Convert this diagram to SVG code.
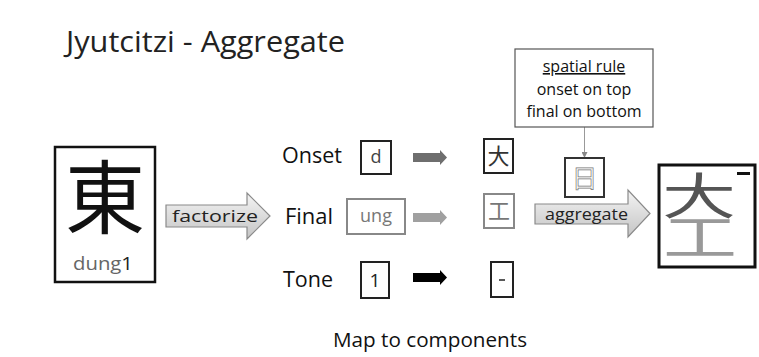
<svg xmlns="http://www.w3.org/2000/svg" width="759" height="357" viewBox="0 0 759 357">
<defs>
<linearGradient id="g" x1="0" y1="0" x2="0" y2="1">
<stop offset="0" stop-color="#f4f4f4"/>
<stop offset="1" stop-color="#c4c4c4"/>
</linearGradient>
<marker id="ah" viewBox="0 0 6 6" refX="5" refY="3" markerWidth="6" markerHeight="6" orient="auto" markerUnits="userSpaceOnUse">
<path d="M0,0 L6,3 L0,6 z" fill="#888"/>
</marker>
</defs>
<style>
text{font-family:"Open Sans",Lato,"Noto Sans CJK JP",sans-serif;}
.cjk{font-family:"Noto Sans CJK JP","Noto Sans CJK SC",sans-serif;}
.lbl{font-size:21px;fill:#111;}
.box{fill:#fff;stroke:#222;stroke-width:2;}
.gbox{fill:#fff;stroke:#888;stroke-width:2;}
.big{fill:url(#g);stroke:#8a8a8a;stroke-width:1.2;}
.at{font-size:17px;fill:#222;}
.rule{font-size:16px;fill:#111;text-anchor:middle;}
</style>
<rect width="759" height="357" fill="#fff"/>
<text x="66" y="52" font-size="29" fill="#222" textLength="279" lengthAdjust="spacingAndGlyphs">Jyutcitzi - Aggregate</text>

<g id="source">
<rect x="55" y="147" width="100" height="135" fill="#fff" stroke="#111" stroke-width="2.5"/>
<text class="cjk" x="105" y="227" font-size="80" text-anchor="middle" fill="#111">東</text>
<text x="73" y="270" font-size="19" fill="#666" textLength="60" lengthAdjust="spacingAndGlyphs">dung<tspan fill="#222">1</tspan></text>
</g>

<g id="connectors">
<g id="factorize">
<polygon class="big" points="166,205 247,205 247,193 270,216 247,239 247,227 166,227"/>
<text class="at" x="172" y="222" textLength="86" lengthAdjust="spacingAndGlyphs">factorize</text>
</g>
<polygon points="413,153 440,153 440,150 447,157.5 440,165 440,162 413,162" fill="#6e6e6e"/>
<polygon points="413,213 440,213 440,210 447,217.5 440,225 440,222 413,222" fill="#a0a0a0"/>
<polygon points="413,273 440,273 440,270 447,277.5 440,285 440,282 413,282" fill="#000"/>
<line x1="584.5" y1="127" x2="584.5" y2="157" stroke="#999" stroke-width="1" marker-end="url(#ah)"/>
<g id="aggregate">
<polygon class="big" points="535,204 628,204 628,190 650,213.5 628,237 628,224 535,224"/>
<text class="at" x="545" y="220" textLength="83" lengthAdjust="spacingAndGlyphs">aggregate</text>
</g>
</g>

<g id="onset">
<text class="lbl" x="282" y="163" textLength="60" lengthAdjust="spacingAndGlyphs">Onset</text>
<rect class="box" x="361" y="141" width="30" height="33"/>
<text x="376" y="163" font-size="18" text-anchor="middle" fill="#444">d</text>
</g>
<g id="final">
<text class="lbl" x="285" y="224" textLength="48" lengthAdjust="spacingAndGlyphs">Final</text>
<rect class="gbox" x="347" y="199" width="58" height="35"/>
<text x="376" y="222" font-size="18" text-anchor="middle" fill="#777">ung</text>
</g>
<g id="tone">
<text class="lbl" x="283" y="287" textLength="50" lengthAdjust="spacingAndGlyphs">Tone</text>
<rect class="box" x="361" y="262" width="28" height="36"/>
<text x="375" y="287" font-size="19" text-anchor="middle" fill="#222">1</text>
</g>

<g id="onset-comp">
<rect class="box" x="484" y="139" width="29" height="34"/>
<text class="cjk" x="498.5" y="164" font-size="22" text-anchor="middle" fill="#333">大</text>
</g>
<g id="final-comp">
<rect class="gbox" x="484" y="194" width="30" height="34"/>
<text class="cjk" x="499" y="219" font-size="22" text-anchor="middle" fill="#777">工</text>
</g>
<g id="tone-comp">
<rect class="box" x="491" y="262" width="22" height="35"/>
<line x1="499" y1="280" x2="505" y2="280" stroke="#222" stroke-width="1.5"/>
</g>

<g id="spatial-rule">
<rect x="515" y="49" width="138" height="78" fill="#fff" stroke="#555" stroke-width="1.2"/>
<text class="rule" x="584" y="72" text-decoration="underline">spatial rule</text>
<text class="rule" x="584" y="95">onset on top</text>
<text class="rule" x="584" y="117">final on bottom</text>
</g>

<g id="layout">
<rect x="565" y="158" width="39" height="39" fill="#fff" stroke="#333" stroke-width="2"/>
<g opacity="0.99">
<text class="cjk" x="584.5" y="188" font-size="26" text-anchor="middle" fill="#fff" stroke="#777" stroke-width="0.7" text-rendering="geometricPrecision">日</text>
</g>
</g>

<g id="result">
<rect x="659" y="165" width="96" height="102" fill="#fff" stroke="#111" stroke-width="3"/>
<text class="cjk" transform="translate(699,0) scale(1,0.66)" font-size="74" text-anchor="middle"><tspan x="0" y="324" fill="#555">大</tspan><tspan x="1" y="386" fill="#999">工</tspan></text>
<line x1="737" y1="173.5" x2="750" y2="173.5" stroke="#111" stroke-width="3"/>
</g>

<text x="333" y="347" font-size="20" fill="#111" textLength="194" lengthAdjust="spacingAndGlyphs">Map to components</text>
</svg>
